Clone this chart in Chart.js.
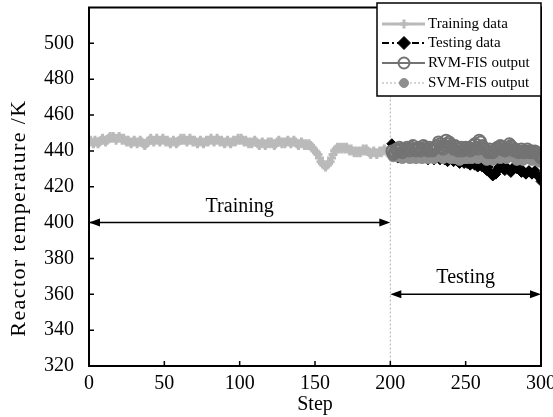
<!DOCTYPE html>
<html>
<head>
<meta charset="utf-8">
<title>Reactor temperature</title>
<script src="https://cdn.jsdelivr.net/npm/chart.js@4.4.0/dist/chart.umd.min.js"></script>
<style>
  html, body { margin: 0; padding: 0; background: #fff; }
  #wrap { width: 553px; height: 417px; }
</style>
</head>
<body>
<div id="wrap"><canvas id="chart" width="553" height="417"></canvas></div>
<script>
// training part, steps 0..200
const trainStart = 0;
const trainTemp = [
  445, 446, 445, 444, 446, 445, 444, 445, 446, 447,
  446, 445, 446, 447, 448, 447, 448, 447, 446, 447,
  448, 447, 446, 447, 446, 445, 446, 445, 444, 445,
  446, 445, 444, 445, 446, 445, 444, 443, 444, 445,
  446, 447, 446, 445, 446, 447, 446, 445, 446, 447,
  446, 445, 446, 445, 444, 445, 446, 445, 444, 445,
  446, 447, 446, 447, 446, 445, 446, 447, 446, 445,
  446, 445, 444, 445, 446, 445, 444, 445, 446, 445,
  446, 447, 446, 445, 446, 447, 446, 445, 446, 445,
  444, 445, 446, 445, 444, 445, 446, 445, 446, 447,
  446, 447, 446, 445, 446, 445, 444, 445, 444, 445,
  446, 445, 444, 443, 444, 445, 444, 443, 444, 445,
  444, 445, 444, 443, 444, 445, 446, 445, 444, 445,
  444, 445, 446, 445, 444, 445, 446, 445, 444, 443,
  444, 445, 444, 443, 444, 443, 444, 443, 442, 441,
  440, 439, 438, 436, 434, 433, 432, 431, 432, 433,
  434, 436, 438, 440, 441, 442, 441, 442, 441, 442,
  441, 442, 441, 440, 441, 440, 439, 440, 439, 440,
  439, 440, 441, 440, 441, 440, 439, 438, 439, 440,
  439, 438, 439, 440, 439, 440, 441, 440, 439, 440,
  441
];

// testing part, steps 201..300
const testStart = 201;
const testTemp = [
  444, 440, 437, 438, 436, 437, 438, 436, 437, 438,
  437, 436, 438, 437, 436, 437, 438, 436, 437, 436,
  437, 438, 436, 437, 435, 436, 437, 436, 435, 436,
  437, 436, 435, 436, 437, 435, 436, 434, 435, 436,
  435, 434, 435, 436, 434, 433, 434, 435, 433, 434,
  433, 434, 432, 433, 434, 432, 433, 431, 432, 433,
  431, 432, 430, 429, 431, 428, 427, 426, 428, 427,
  429, 431, 433, 431, 430, 429, 431, 430, 429, 428,
  430, 431, 432, 430, 431, 430, 428, 429, 428, 427,
  428, 429, 428, 427, 428, 429, 427, 426, 425, 423
];
const rvmOut = [
  440, 438, 439, 441, 440, 442, 441, 439, 440, 441,
  442, 441, 440, 442, 443, 441, 440, 441, 442, 440,
  441, 443, 442, 441, 440, 442, 441, 440, 441, 442,
  443, 445, 444, 442, 441, 443, 446, 444, 445, 443,
  442, 441, 443, 442, 440, 441, 442, 440, 441, 442,
  441, 442, 440, 441, 443, 444, 442, 441, 446, 445,
  443, 442, 441, 440, 439, 441, 440, 439, 440, 441,
  442, 441, 443, 442, 441, 440, 441, 442, 444, 443,
  442, 440, 441, 440, 439, 440, 441, 440, 439, 440,
  441, 440, 439, 440, 439, 440, 439, 438, 437, 436
];
const svmOut = [
  439, 437, 438, 439, 437, 438, 437, 436, 438, 437,
  438, 437, 436, 438, 437, 438, 436, 437, 438, 437,
  436, 437, 438, 437, 436, 437, 438, 437, 436, 437,
  438, 439, 438, 437, 436, 438, 439, 438, 437, 436,
  437, 438, 436, 437, 436, 435, 437, 438, 436, 437,
  436, 437, 438, 436, 437, 438, 437, 436, 438, 439,
  438, 437, 436, 435, 436, 437, 436, 435, 436, 437,
  438, 437, 436, 437, 438, 437, 436, 437, 438, 439,
  438, 437, 436, 435, 436, 437, 436, 435, 436, 437,
  436, 437, 436, 435, 436, 437, 436, 435, 434, 435
];

const xTicks = [0, 50, 100, 150, 200, 250, 300];
const yTicks = [320, 340, 360, 380, 400, 420, 440, 460, 480, 500];
const seriesNames = ["Training data", "Testing data", "RVM-FIS output", "SVM-FIS output"];
const yTitle = "Reactor temperature /K";

const SERIF = "'Liberation Serif', 'Times New Roman', serif";

function toPoints(start, arr) {
  return arr.map((v, i) => ({ x: start + i, y: v }));
}

// frame, inward ticks, split line, arrows, y title and the legend box
const decorations = {
  id: "decorations",
  beforeDatasetsDraw(chart) {
    const { ctx, chartArea, scales } = chart;
    const x200 = scales.x.getPixelForValue(200);
    ctx.save();
    ctx.strokeStyle = "#b0b0b0";
    ctx.lineWidth = 1;
    ctx.setLineDash([2, 2]);
    ctx.beginPath();
    ctx.moveTo(x200, chartArea.top);
    ctx.lineTo(x200, chartArea.bottom);
    ctx.stroke();
    ctx.restore();
  },
  afterDraw(chart) {
    const { ctx, chartArea, scales } = chart;
    const { left, right, top, bottom } = chartArea;
    const xs = scales.x, ys = scales.y;
    ctx.save();

    // inward ticks
    ctx.strokeStyle = "#000";
    ctx.lineWidth = 1.5;
    ctx.beginPath();
    yTicks.forEach((v) => {
      const y = ys.getPixelForValue(v);
      ctx.moveTo(left, y);
      ctx.lineTo(left + 5, y);
    });
    xTicks.forEach((v) => {
      const x = xs.getPixelForValue(v);
      ctx.moveTo(x, bottom);
      ctx.lineTo(x, bottom - 5);
    });
    ctx.stroke();

    // frame
    ctx.lineWidth = 2;
    ctx.strokeRect(left, top, right - left, bottom - top);

    // y axis title (sits a bit below the centre of the axis in the original)
    ctx.save();
    ctx.translate(19, 218);
    ctx.rotate(-Math.PI / 2);
    ctx.fillStyle = "#000";
    ctx.font = "22px " + SERIF;
    if ("letterSpacing" in ctx) ctx.letterSpacing = "1.4px";
    ctx.textAlign = "center";
    ctx.textBaseline = "middle";
    ctx.fillText(yTitle, 0, 0);
    ctx.restore();

    // arrows
    function arrow(x1, x2, y) {
      ctx.strokeStyle = "#000";
      ctx.fillStyle = "#000";
      ctx.lineWidth = 1.5;
      ctx.beginPath();
      ctx.moveTo(x1 + 6, y);
      ctx.lineTo(x2 - 6, y);
      ctx.stroke();
      ctx.beginPath();
      ctx.moveTo(x1, y);
      ctx.lineTo(x1 + 11, y - 4);
      ctx.lineTo(x1 + 11, y + 4);
      ctx.closePath();
      ctx.fill();
      ctx.beginPath();
      ctx.moveTo(x2, y);
      ctx.lineTo(x2 - 11, y - 4);
      ctx.lineTo(x2 - 11, y + 4);
      ctx.closePath();
      ctx.fill();
    }
    arrow(xs.getPixelForValue(0), xs.getPixelForValue(200), ys.getPixelForValue(400));
    arrow(xs.getPixelForValue(200), xs.getPixelForValue(300), ys.getPixelForValue(360));

    ctx.fillStyle = "#000";
    ctx.font = "20px " + SERIF;
    ctx.textAlign = "center";
    ctx.textBaseline = "alphabetic";
    ctx.fillText("Training", xs.getPixelForValue(100), ys.getPixelForValue(400) - 11);
    ctx.fillText("Testing", xs.getPixelForValue(250), ys.getPixelForValue(360) - 11);

    // legend
    const bx = 377, by = 3, bw = right - 377, bh = 93;
    ctx.fillStyle = "#fff";
    ctx.fillRect(bx, by, bw, bh);
    ctx.strokeStyle = "#000";
    ctx.lineWidth = 1.5;
    ctx.strokeRect(bx, by, bw, bh);

    const rows = [24, 43, 63, 83];
    const lx1 = 382, lx2 = 425, mx = 404;
    chart.data.datasets.forEach((ds, i) => {
      const y = rows[i];
      ctx.save();
      ctx.strokeStyle = ds.borderColor;
      ctx.lineWidth = ds.borderWidth;
      ctx.setLineDash(ds.borderDash || []);
      ctx.beginPath();
      ctx.moveTo(lx1, y);
      ctx.lineTo(lx2, y);
      ctx.stroke();
      ctx.restore();

      ctx.save();
      ctx.fillStyle = ds.pointBackgroundColor;
      ctx.strokeStyle = ds.pointBorderColor;
      ctx.lineWidth = ds.pointBorderWidth;
      Chart.helpers.drawPoint(ctx, {
        pointStyle: ds.pointStyle,
        radius: i === 1 ? 6.5 : (i === 3 ? 4.5 : ds.pointRadius),
        borderWidth: ds.pointBorderWidth,
        rotation: 0
      }, mx, y);
      ctx.restore();

      ctx.fillStyle = "#000";
      ctx.font = "15px " + SERIF;
      ctx.textAlign = "left";
      ctx.textBaseline = "middle";
      ctx.fillText(seriesNames[i], 428, y);
    });
    ctx.restore();
  }
};

const datasets = [
  {
    label: seriesNames[0],
    data: toPoints(trainStart, trainTemp),
    borderColor: "#bababa",
    borderWidth: 3,
    pointStyle: "cross",
    pointRadius: 4.5,
    pointBorderWidth: 3,
    pointBorderColor: "#bababa",
    pointBackgroundColor: "#bababa",
    order: 4
  },
  {
    label: seriesNames[1],
    data: toPoints(testStart, testTemp),
    borderColor: "#000",
    borderWidth: 2,
    borderDash: [7, 3, 2, 3],
    pointStyle: "rectRot",
    pointRadius: 5,
    pointBorderWidth: 1,
    pointBorderColor: "#000",
    pointBackgroundColor: "#000",
    order: 3
  },
  {
    label: seriesNames[2],
    data: toPoints(testStart, rvmOut),
    borderColor: "#737373",
    borderWidth: 2,
    pointStyle: "circle",
    pointRadius: 5.5,
    pointBorderWidth: 2,
    pointBorderColor: "#737373",
    pointBackgroundColor: "rgba(0,0,0,0)",
    order: 1
  },
  {
    label: seriesNames[3],
    data: toPoints(testStart, svmOut),
    borderColor: "#c8c8c8",
    borderWidth: 1.5,
    borderDash: [2, 2],
    pointStyle: "circle",
    pointRadius: 5.5,
    pointBorderWidth: 1,
    pointBorderColor: "#8e8e8e",
    pointBackgroundColor: "#8e8e8e",
    order: 2
  }
];

new Chart(document.getElementById("chart"), {
  type: "line",
  data: { datasets: datasets },
  options: {
    responsive: false,
    animation: false,
    layout: { padding: { left: 0, right: 12, top: 7, bottom: 0 } },
    elements: { line: { tension: 0 } },
    plugins: {
      legend: { display: false },
      tooltip: { enabled: false }
    },
    scales: {
      x: {
        type: "linear",
        min: 0,
        max: 300,
        afterBuildTicks: (scale) => {
          scale.ticks = xTicks.map((v) => ({ value: v }));
        },
        afterFit: (scale) => {
          scale.height = 51;
          scale.paddingLeft = 0;
          scale.paddingRight = 0;
        },
        grid: { display: false },
        border: { display: false },
        ticks: {
          color: "#000",
          padding: -2,
          maxRotation: 0,
          font: { family: SERIF, size: 20 }
        },
        title: {
          display: true,
          text: "Step",
          color: "#000",
          padding: { top: 0, bottom: 0 },
          font: { family: SERIF, size: 20 }
        }
      },
      y: {
        min: 320,
        max: 520,
        afterBuildTicks: (scale) => {
          scale.ticks = yTicks.map((v) => ({ value: v }));
        },
        afterFit: (scale) => {
          scale.width = 89;
          scale.paddingTop = 0;
          scale.paddingBottom = 0;
        },
        grid: { display: false },
        border: { display: false },
        ticks: {
          color: "#000",
          padding: 7,
          font: { family: SERIF, size: 20 }
        },
        title: { display: false }
      }
    }
  },
  plugins: [decorations]
});
</script>
</body>
</html>
